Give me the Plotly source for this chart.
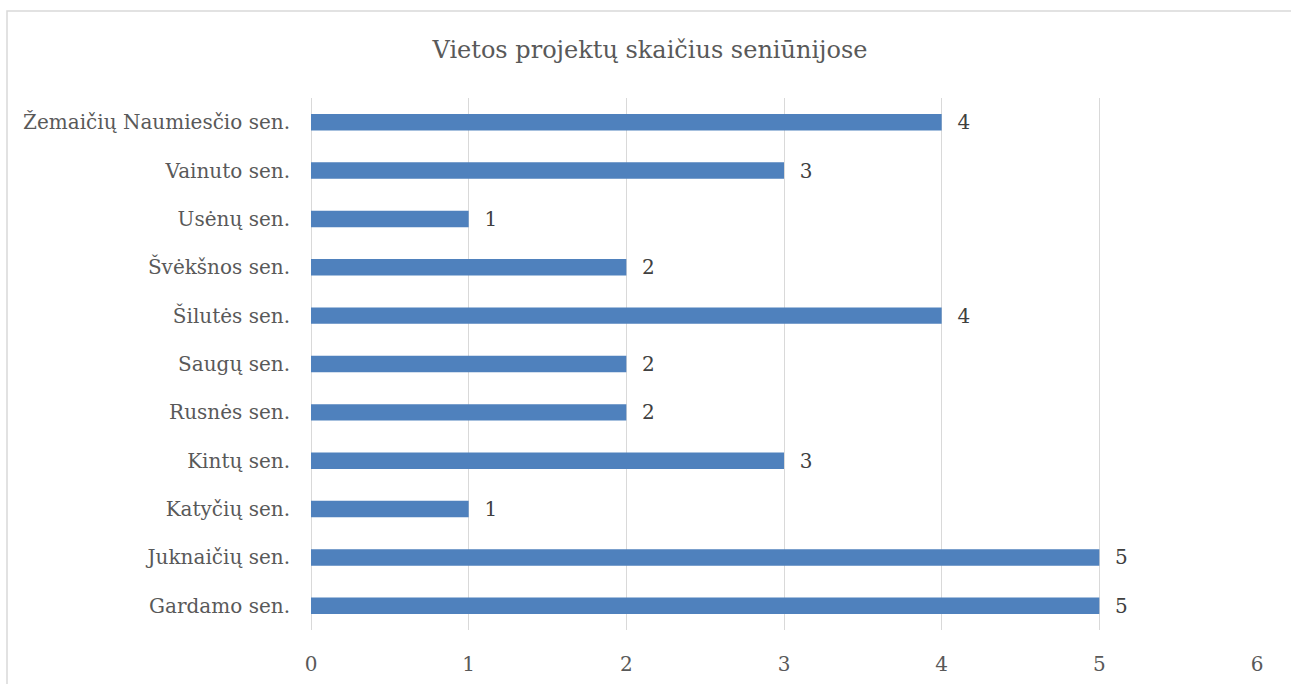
import plotly.graph_objects as go

categories = ["Gardamo sen.", "Juknaičių sen.", "Katyčių sen.", "Kintų sen.", "Rusnės sen.",
              "Saugų sen.", "Šilutės sen.", "Švėkšnos sen.", "Usėnų sen.", "Vainuto sen.",
              "Žemaičių Naumiesčio sen."]
values = [5, 5, 1, 3, 2, 2, 4, 2, 1, 3, 4]
x_ticks = [0, 1, 2, 3, 4, 5, 6]
title_text = "Vietos projektų skaičius seniūnijose"

FONT = "DejaVu Serif"
W, H = 1291, 684
ml, mt = 311, 98
pw, ph = 946, 532
mr = W - ml - pw
mb = H - mt - ph

fig = go.Figure(go.Bar(
    x=values, y=categories, orientation="h",
    marker=dict(color="#4F81BD", line=dict(width=0)),
    width=0.34,
    text=values, texttemplate="  %{x}", textposition="outside",
    constraintext="none",
    textfont=dict(family=FONT, size=20, color="#404040"),
    cliponaxis=False,
))

fig.update_layout(
    width=W, height=H,
    margin=dict(l=ml, r=mr, t=mt, b=mb, autoexpand=False),
    paper_bgcolor="white", plot_bgcolor="white",
    showlegend=False,
    title=dict(text=title_text, x=650 / W, xref="container", xanchor="center",
               y=1 - 50 / H, yref="container", yanchor="middle",
               font=dict(family=FONT, size=24, color="#595959")),
    xaxis=dict(range=[0, 6], tickvals=x_ticks, showgrid=True, gridcolor="#D9D9D9", gridwidth=1.3,
               zeroline=True, zerolinecolor="#D9D9D9", zerolinewidth=1.3, showline=False,
               ticks="", tickfont=dict(family=FONT, size=20, color="#595959"),
               ticklabelstandoff=20),
    yaxis=dict(categoryorder="array", categoryarray=categories, showgrid=False, zeroline=False,
               showline=False, ticks="", tickfont=dict(family=FONT, size=20, color="#595959"),
               ticklabelstandoff=20),
    shapes=[dict(type="rect", xref="paper", yref="paper",
                 x0=(7 - ml) / pw, x1=(1300 - ml) / pw,
                 y0=-(H + 20 - mt - ph) / ph, y1=1 + (mt - 11) / ph,
                 line=dict(color="#D9D9D9", width=1.5), fillcolor="rgba(0,0,0,0)", layer="below")],
)

fig.write_html("out.html", config={"displayModeBar": False},
               post_script="document.body.style.margin='0';")
